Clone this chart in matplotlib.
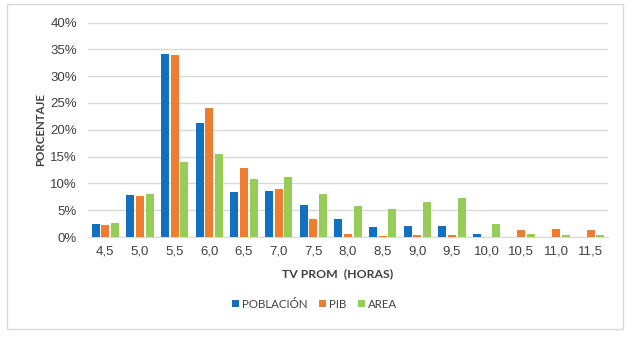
import matplotlib
matplotlib.use('Agg')
import matplotlib.pyplot as plt
from matplotlib.patches import Rectangle
import numpy as np

# datos (porcentaje)
horas = ['4,5', '5,0', '5,5', '6,0', '6,5', '7,0', '7,5', '8,0',
         '8,5', '9,0', '9,5', '10,0', '10,5', '11,0', '11,5']
poblacion = [2.4, 7.8, 34.1, 21.2, 8.4, 8.6, 6.0, 3.4, 1.9, 2.0, 2.0, 0.6, 0.0, 0.0, 0.0]
pib = [2.2, 7.6, 33.9, 24.0, 12.9, 8.9, 3.4, 0.6, 0.2, 0.4, 0.4, 0.0, 1.3, 1.5, 1.3]
area = [2.6, 8.0, 14.0, 15.5, 10.8, 11.2, 8.0, 5.8, 5.2, 6.5, 7.3, 2.4, 0.6, 0.4, 0.4]

series = [('POBLACIÓN', poblacion, '#1170BF'),
          ('PIB', pib, '#ED7D31'),
          ('AREA', area, '#96CD58')]

texto = '#404040'
gris = '#D9D9D9'

fig = plt.figure(figsize=(6.33, 3.38), dpi=100)
ax = fig.add_axes([0.139, 0.2988, 0.8215, 0.6346])

x = np.arange(len(horas))
ancho = 0.23
paso = 0.275
for i, (nombre, valores, color) in enumerate(series):
    ax.bar(x + (i - 1) * paso, valores, ancho, color=color, label=nombre, zorder=3)

ax.set_xlim(-0.5, len(horas) - 0.5)
ax.set_ylim(0, 40)
ax.set_yticks(range(0, 41, 5))
ax.set_yticklabels([f'{v}%' for v in range(0, 41, 5)])
ax.set_xticks(x)
ax.set_xticklabels(horas)

ax.grid(axis='y', color=gris, linewidth=1, zorder=0)
for lado in ['top', 'right', 'left']:
    ax.spines[lado].set_visible(False)
ax.spines['bottom'].set_color(gris)
ax.tick_params(length=0, colors=texto, labelsize=9.5, pad=6)
ax.tick_params(axis='y', pad=8)
for t in ax.get_xticklabels() + ax.get_yticklabels():
    t.set_family('Liberation Sans')

ax.set_xlabel('TV PROM  (HORAS)', fontsize=8.8, fontweight='bold', color=texto,
              family='Lato')
ax.xaxis.set_label_coords(0.481, -0.145)
ax.set_ylabel('PORCENTAJE', fontsize=8.3, fontweight='bold', color=texto,
              family='Lato', labelpad=3)

leg = fig.legend(loc='center', bbox_to_anchor=(0.497, 0.10), ncol=3, frameon=False,
                 handlelength=0.6, handleheight=0.6, handletextpad=0.25, columnspacing=1.0,
                 prop={'family': 'Lato', 'size': 8.3})
for t in leg.get_texts():
    t.set_color(texto)

fig.patches.append(Rectangle((0.0118, 0.0266), 0.9722, 0.9614, transform=fig.transFigure,
                             fill=False, edgecolor=gris, linewidth=1))

fig.savefig('out.png', dpi=100)
